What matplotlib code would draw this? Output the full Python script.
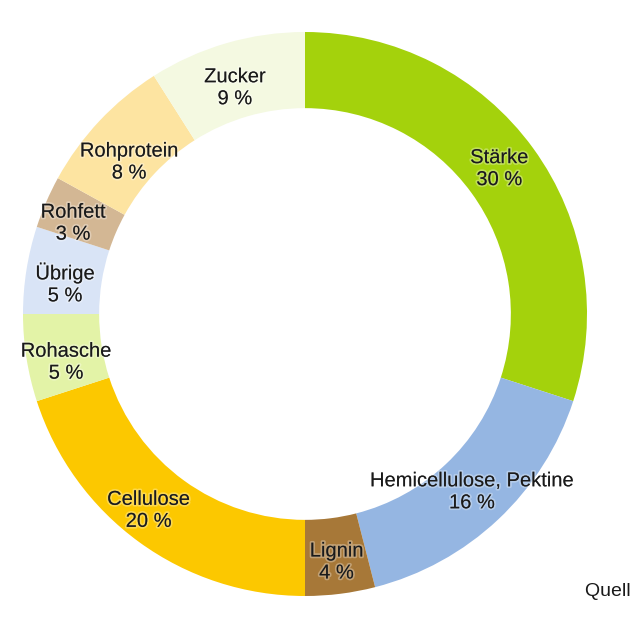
import numpy as np
import matplotlib.pyplot as plt
import matplotlib.patheffects as pe

# Daten
labels = ["Stärke", "Hemicellulose, Pektine", "Lignin", "Cellulose", "Rohasche",
          "Übrige", "Rohfett", "Rohprotein", "Zucker"]
values = [30, 16, 4, 20, 5, 5, 3, 8, 9]
colors = ["#a4d20c", "#95b6e2", "#a77838", "#fcc800", "#e3f3a7",
          "#d9e4f6", "#d3b794", "#fde4a1", "#f4f9e1"]

# kleine Verschiebungen der Beschriftungen (Pixel, y nach unten)
nudge = [(-3, -2), (0, 0), (1, 6), (-13, -1), (2, 10),
         (1, 8), (-8, 6), (2, 15), (-2, 8)]

plt.rcParams["font.family"] = ["Liberation Sans", "DejaVu Sans"]

W, H = 630, 629
cx, cy, r = 305, 314, 282

fig = plt.figure(figsize=(W / 100, H / 100), dpi=100)
ax = fig.add_axes([(cx - r) / W, (H - cy - r) / H, 2 * r / W, 2 * r / H])

ring = 0.27
wedges, texts = ax.pie(values, colors=colors, startangle=90, counterclock=False,
                       radius=1, wedgeprops=dict(width=ring, linewidth=0))

angle = 90.0
for lab, v, (ndx, ndy) in zip(labels, values, nudge):
    mid = angle - v / 2 * 3.6
    angle -= v * 3.6
    rr = 1 - ring / 2
    x = rr * np.cos(np.radians(mid)) + ndx / r
    y = rr * np.sin(np.radians(mid)) - ndy / r
    ax.text(x, y, f"{lab}\n{v} %", ha="center", va="center", fontsize=14.5,
            color="#1a1a1a", linespacing=1.2,
            path_effects=[pe.withStroke(linewidth=2.5, foreground=(1, 1, 1, 0.3))])

ax.set_xlim(-1, 1)
ax.set_ylim(-1, 1)
ax.set_aspect("equal")
ax.axis("off")

fig.text(585 / W, 1 - 592 / H, "Quelle: FNR", ha="left", va="center",
         fontsize=14, color="#1a1a1a")

fig.savefig("out.png", dpi=100)
